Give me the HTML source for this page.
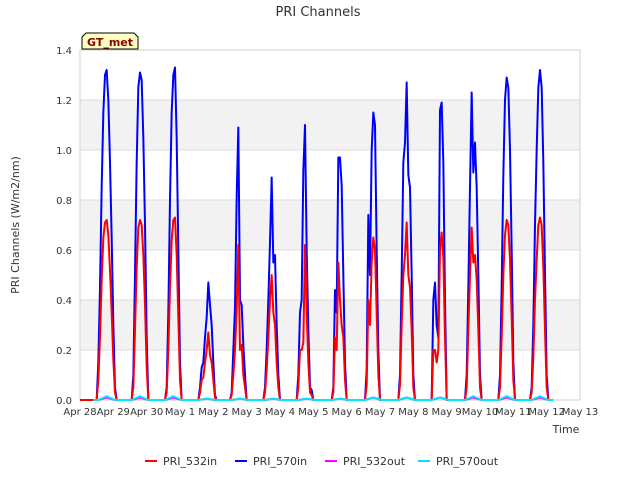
<!DOCTYPE html>
<html><head><meta charset="utf-8"><style>
body{margin:0;background:#fff;font-family:"Liberation Sans","DejaVu Sans",sans-serif}
svg text{font-family:"DejaVu Sans","Liberation Sans",sans-serif}
</style></head><body>
<svg width="640" height="480" id="c">
<rect width="640" height="480" fill="#fff"/>
<text x="318" y="16" text-anchor="middle" font-size="13" fill="#333">PRI Channels</text>
<g id="plot"></g>
<text x="19" y="225" font-size="11" fill="#333" text-anchor="middle" transform="rotate(-90 19 225)">PRI Channels (W/m2/nm)</text>
<text x="566" y="433" font-size="11" fill="#333" text-anchor="middle">Time</text>
<g>
<path d="M82 49 L82 37 L86 33 L134 33 L138 37 L138 49 Z" fill="#ffffc0" stroke="#000"/>
<text x="110" y="46" font-size="11" font-weight="bold" fill="#8b0000" text-anchor="middle">GT_met</text></g>
<g id="legend"></g>
</svg>
<script>
const categories=["Apr 28","Apr 29","Apr 30","May 1","May 2","May 3","May 4","May 5","May 6","May 7","May 8","May 9","May 10","May 11","May 12","May 13"];
const yTicks=[0,0.2,0.4,0.6,0.8,1.0,1.2,1.4];
const sampleFrac=[0.5,0.55,0.6,0.65,0.7,0.75,0.8,0.85,0.9,0.95,1.0,1.05,1.1];
const pri570in=[
[0,0.15,0.45,0.85,1.15,1.3,1.32,1.2,0.95,0.65,0.3,0.05,0],
[0,0,0.1,0.5,0.95,1.25,1.31,1.28,1.05,0.7,0.25,0,0],
[0,0,0.05,0.35,0.8,1.15,1.3,1.33,1.05,0.6,0.15,0,0],
[0,0,0.05,0.13,0.15,0.25,0.33,0.47,0.38,0.3,0.15,0.02,0],
[0,0.03,0.2,0.37,0.81,1.09,0.4,0.38,0.22,0.1,0,0,0],
[0,0.05,0.2,0.4,0.63,0.89,0.55,0.58,0.3,0.1,0,0,0],
[0,0.1,0.35,0.4,0.92,1.1,0.6,0.28,0.05,0.04,0,0,0],
[0,0,0.05,0.44,0.35,0.97,0.97,0.86,0.5,0.15,0,0,0],
[0,0,0.12,0.74,0.5,1.0,1.15,1.1,0.6,0.2,0,0,0],
[0,0,0.1,0.5,0.95,1.03,1.27,0.9,0.85,0.5,0.1,0,0],
[0,0,0.4,0.47,0.3,0.25,1.16,1.19,0.95,0.4,0,0,0],
[0,0,0.1,0.45,0.85,1.23,0.91,1.03,0.85,0.5,0.1,0,0],
[0,0,0.1,0.45,0.9,1.2,1.29,1.25,1.0,0.6,0.15,0,0],
[0,0.05,0.3,0.7,1.0,1.25,1.32,1.25,0.95,0.5,0.1,0,0]];
const pri532in=[
[0,0.08,0.25,0.48,0.65,0.71,0.72,0.66,0.52,0.35,0.16,0.03,0],
[0,0,0.05,0.28,0.53,0.69,0.72,0.7,0.58,0.38,0.13,0,0],
[0,0,0.03,0.2,0.45,0.64,0.72,0.73,0.58,0.33,0.08,0,0],
[0,0,0.03,0.08,0.09,0.15,0.2,0.27,0.18,0.15,0.08,0.01,0],
[0,0.02,0.1,0.2,0.36,0.62,0.2,0.22,0.1,0.05,0,0,0],
[0,0.03,0.12,0.25,0.4,0.5,0.35,0.3,0.15,0.05,0,0,0],
[0,0.05,0.2,0.2,0.23,0.62,0.35,0.15,0.03,0.02,0,0,0],
[0,0,0.03,0.25,0.2,0.55,0.4,0.3,0.25,0.08,0,0,0],
[0,0,0.06,0.4,0.3,0.55,0.65,0.6,0.35,0.1,0,0,0],
[0,0,0.06,0.3,0.5,0.58,0.71,0.5,0.45,0.28,0.05,0,0],
[0,0,0.2,0.2,0.15,0.2,0.6,0.67,0.57,0.25,0,0,0],
[0,0,0.05,0.28,0.5,0.69,0.55,0.58,0.48,0.28,0.05,0,0],
[0,0,0.05,0.25,0.5,0.66,0.72,0.7,0.56,0.33,0.08,0,0],
[0,0.03,0.17,0.4,0.56,0.7,0.73,0.7,0.53,0.28,0.05,0,0]];
const pri532out=[0.01,0.01,0.01,0.005,0.005,0.005,0.005,0.005,0.01,0.01,0.01,0.01,0.01,0.01];
const pri570out=[0.015,0.015,0.015,0.005,0.005,0.005,0.005,0.005,0.01,0.01,0.01,0.015,0.015,0.015];
const seriesNames=["PRI_532in","PRI_570in","PRI_532out","PRI_570out"];
const seriesColors=["#ff0000","#0000ff","#ff00ff","#00e5ff"];

const NS="http://www.w3.org/2000/svg";
const X0=80,X1=580,Y0=400,Y1=50;
const xs=t=>X0+(X1-X0)*t/15;
const ys=v=>Y0-(Y0-Y1)*v/1.4;
const plot=document.getElementById('plot');
function mk(tag,attrs,parent){const e=document.createElementNS(NS,tag);for(const k in attrs)e.setAttribute(k,attrs[k]);parent.appendChild(e);return e;}
for(let i=0;i<yTicks.length-1;i++){
 if(i%2===1){const r=mk('rect',{x:X0,y:ys(yTicks[i+1]),width:X1-X0,height:ys(yTicks[i])-ys(yTicks[i+1]),fill:'#f2f2f2'},plot);
 
 }
}
yTicks.forEach(v=>{
 const l=mk('line',{x1:X0,x2:X1,y1:ys(v),y2:ys(v),stroke:'#dcdcdc'},plot);
 
 
 const t=mk('text',{x:X0-8,y:ys(v)+4,'text-anchor':'end','font-size':'10',fill:'#333'},plot);
 t.textContent=v.toFixed(1);
 
 
});
const frame=mk('rect',{x:X0,y:Y1,width:X1-X0,height:Y0-Y1,fill:'none',stroke:'#d0d0d0'},plot);


categories.forEach((c,i)=>{
 const t=mk('text',{x:xs(i),y:Y0+15,'text-anchor':'middle','font-size':'10',fill:'#333'},plot);
 t.textContent=c;
 
 
});
function dayPts(arr){const p=[[xs(0),ys(0)]];arr.forEach((day,d)=>day.forEach((v,j)=>p.push([xs(d+sampleFrac[j]),ys(v)])));return p;}
function outPts(peaks){const p=[[xs(0.4),ys(0)]];peaks.forEach((pk,d)=>{[0.55,0.7,0.8,0.9,1.05].forEach((f,j)=>p.push([xs(d+f),ys([0,pk*0.6,pk,pk*0.6,0][j])]));});p.push([xs(14.2),ys(0)]);return p;}
const allPts=[dayPts(pri532in),dayPts(pri570in),outPts(pri532out),outPts(pri570out)];
[1,0,2,3].forEach(k=>{
 const pl=mk('polyline',{points:allPts[k].map(p=>p.join(',')).join(' '),fill:'none',stroke:seriesColors[k],'stroke-width':'2','stroke-linejoin':'round'},plot);
 
 
});
const leg=document.getElementById('legend');
const lx=[145,235,325,418];
seriesNames.forEach((n,i)=>{
 const g=mk('g',{},leg);
 
 
 mk('line',{x1:lx[i],x2:lx[i]+12,y1:461,y2:461,stroke:seriesColors[i],'stroke-width':'2'},g);
 const t=mk('text',{x:lx[i]+18,y:465,'font-size':'11',fill:'#333'},g);
 t.textContent=n;
});
</script>
</body></html>
